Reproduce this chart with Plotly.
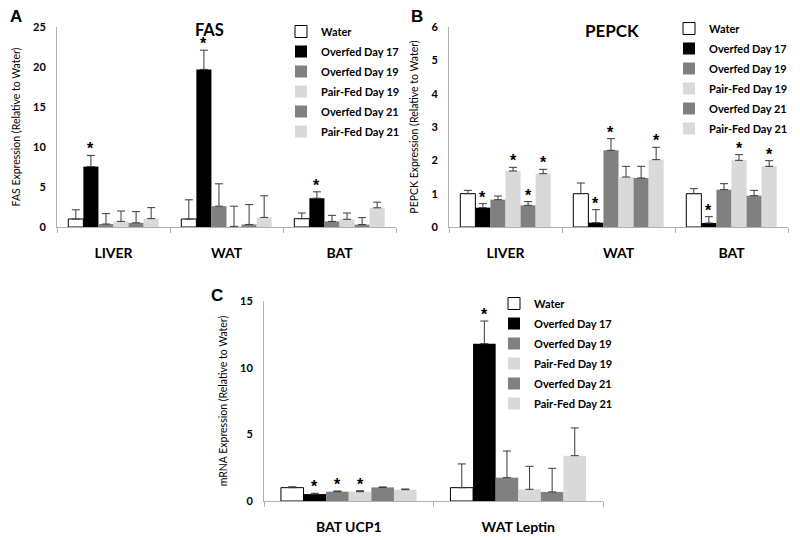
import plotly.graph_objects as go

series = ["Water", "Overfed Day 17", "Overfed Day 19", "Pair-Fed Day 19", "Overfed Day 21", "Pair-Fed Day 21"]
colors = ["#ffffff", "#000000", "#808080", "#d9d9d9", "#808080", "#d9d9d9"]

# Panel A: FAS
cats_a = ["LIVER", "WAT", "BAT"]
fas_vals = [
    [1.0, 1.0, 1.04],
    [7.55, 19.7, 3.6],
    [0.37, 2.6, 0.7],
    [0.7, 0.08, 0.96],
    [0.52, 0.32, 0.3],
    [1.05, 1.2, 2.4],
]
fas_top = [
    [2.15, 3.4, 1.75],
    [8.95, 22.1, 4.4],
    [1.67, 5.4, 1.46],
    [2.0, 2.6, 1.75],
    [1.92, 2.8, 1.17],
    [2.42, 3.9, 3.1],
]
fas_sig = [(0, 1), (1, 1), (2, 1)]

# Panel B: PEPCK
cats_b = ["LIVER", "WAT", "BAT"]
pepck_vals = [
    [1.0, 1.0, 1.0],
    [0.58, 0.13, 0.12],
    [0.82, 2.3, 1.12],
    [1.68, 1.5, 2.0],
    [0.65, 1.47, 0.94],
    [1.6, 2.02, 1.82],
]
pepck_top = [
    [1.1, 1.32, 1.15],
    [0.7, 0.52, 0.31],
    [0.93, 2.65, 1.3],
    [1.79, 1.82, 2.17],
    [0.76, 1.82, 1.1],
    [1.73, 2.39, 1.99],
]
pepck_sig = [(0, 1), (0, 3), (0, 4), (0, 5), (1, 1), (1, 2), (1, 5), (2, 1), (2, 3), (2, 5)]

# Panel C: mRNA
cats_c = ["BAT UCP1", "WAT Leptin"]
mrna_vals = [
    [1.0, 1.0],
    [0.52, 11.8],
    [0.7, 1.75],
    [0.7, 0.88],
    [1.02, 0.68],
    [0.85, 3.4],
]
mrna_top = [
    [1.07, 2.78],
    [0.58, 13.5],
    [0.75, 3.75],
    [0.77, 2.6],
    [1.05, 2.45],
    [0.9, 5.48],
]
mrna_sig = [(0, 1), (0, 2), (0, 3), (1, 1)]

FONT = "Lato"
BARGAP = 0.2
fig = go.Figure()

panels = [
    dict(cats=cats_a, vals=fas_vals, top=fas_top, sig=fas_sig, xa="x", ya="y", leg="legend",
         dom_x=[57 / 800, 396 / 800], dom_y=[1 - 227 / 540, 1 - 27 / 540], yr=[0, 25], dt=5,
         ytitle="FAS Expression (Relative to Water)"),
    dict(cats=cats_b, vals=pepck_vals, top=pepck_top, sig=pepck_sig, xa="x2", ya="y2", leg="legend2",
         dom_x=[449 / 800, 788 / 800], dom_y=[1 - 227 / 540, 1 - 27 / 540], yr=[0, 6], dt=1,
         ytitle="PEPCK Expression (Relative to Water)"),
    dict(cats=cats_c, vals=mrna_vals, top=mrna_top, sig=mrna_sig, xa="x3", ya="y3", leg="legend3",
         dom_x=[264 / 800, 603 / 800], dom_y=[1 - 501 / 540, 1 - 301 / 540], yr=[0, 15], dt=5,
         ytitle="mRNA Expression (Relative to Water)"),
]

annotations = []
for p in panels:
    n = len(p["cats"])
    xs = list(range(n))
    for i, name in enumerate(series):
        v = p["vals"][i]
        e = [t - a for t, a in zip(p["top"][i], v)]
        fig.add_trace(go.Bar(
            x=xs, y=v, name=name, xaxis=p["xa"], yaxis=p["ya"], legend=p["leg"],
            legendgroup="%s_%d" % (p["leg"], i),
            marker=dict(color=colors[i],
                        line=dict(color="#000000" if i == 0 else colors[i], width=1 if i == 0 else 0)),
            error_y=dict(type="data", array=e, arrayminus=[0] * n, symmetric=False,
                         color="#3a3a3a", thickness=1, width=4),
        ))
    w = (1 - BARGAP) / len(series)
    for (c, i) in p["sig"]:
        annotations.append(dict(
            x=c - (1 - BARGAP) / 2 + (i + 0.5) * w, y=p["top"][i][c],
            xref=p["xa"], yref=p["ya"], text="<b>*</b>", showarrow=False,
            xanchor="center", yanchor="bottom", yshift=-4,
            font=dict(size=16, family="Liberation Sans", color="#000000")))

def axname(a, kind):
    return kind + "axis" + a[1:]

layout_axes = {}
for p in panels:
    n = len(p["cats"])
    layout_axes[axname(p["xa"], "x")] = dict(
        domain=p["dom_x"], anchor=p["ya"], range=[-0.5, n - 0.5], automargin=False,
        tickvals=list(range(n)), ticktext=["<b>%s</b>" % c for c in p["cats"]],
        ticks="", ticklabelstandoff=13,
        tickfont=dict(size=14, family=FONT, color="#000"),
        showline=True, linecolor="#b0b0b0", linewidth=1, showgrid=False, zeroline=False,
        minor=dict(tickvals=[k - 0.5 for k in range(n + 1)], ticks="outside", ticklen=5,
                   tickcolor="#b0b0b0", tickwidth=1, showgrid=False),
    )
    layout_axes[axname(p["ya"], "y")] = dict(
        domain=p["dom_y"], anchor=p["xa"], range=p["yr"], dtick=p["dt"], automargin=False,
        showline=True, linecolor="#b0b0b0", linewidth=1, showgrid=False, zeroline=False,
        ticks="", ticklabelstandoff=8,
        tickfont=dict(size=11, family=FONT, color="#000", weight="bold"),
        title=dict(text=p["ytitle"], font=dict(size=10.5, family=FONT, color="#000"), standoff=10),
    )

# Titles and panel letters
def label(x, y, text, size, family):
    return dict(x=x / 800, y=1 - y / 540, xref="paper", yref="paper", text=text, showarrow=False,
                xanchor="center", yanchor="middle", font=dict(size=size, family=family, color="#000"))

annotations += [
    label(209, 30, "<b>FAS</b>", 16.5, FONT),
    label(612, 31, "<b>PEPCK</b>", 17, FONT),
    label(16, 16, "<b>A</b>", 17, "Liberation Sans"),
    label(417, 16, "<b>B</b>", 17, "Liberation Sans"),
    label(217, 295, "<b>C</b>", 17, "Liberation Sans"),
]

legfont = dict(size=11, family=FONT, color="#000", weight="bold")
def leg(x, ytop):
    return dict(x=x / 800, y=1 - ytop / 540, xanchor="left", yanchor="top", bgcolor="rgba(0,0,0,0)",
                font=legfont, itemwidth=30, tracegroupgap=1, traceorder="grouped")

fig.update_layout(
    template="none",
    width=800, height=540, margin=dict(l=0, r=0, t=0, b=0, autoexpand=False),
    paper_bgcolor="white", plot_bgcolor="white",
    barmode="group", bargap=BARGAP, bargroupgap=0,
    showlegend=True,
    legend=leg(281, 17), legend2=leg(669, 14), legend3=leg(494, 289),
    annotations=annotations,
    **layout_axes,
)

fig.write_html("out.html", config={"displayModeBar": False},
               post_script="document.body.style.margin='0';")
